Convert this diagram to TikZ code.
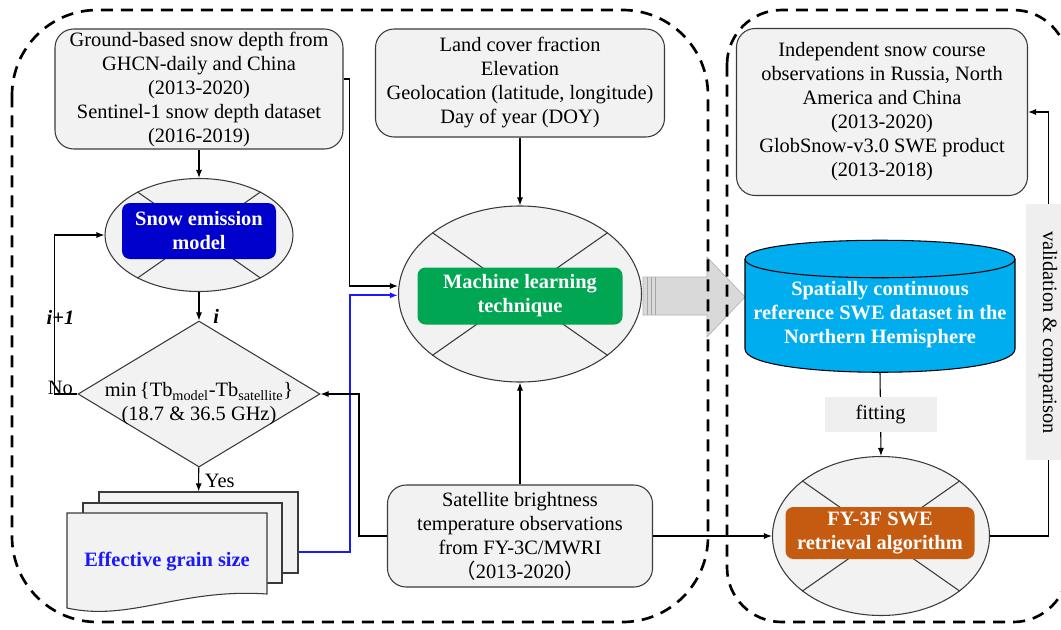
\documentclass[tikz,border=0pt]{standalone}
\usepackage{fontspec}
\setmainfont{Liberation Serif}
\newfontfamily\cjk{Noto Sans CJK SC}
\usetikzlibrary{arrows.meta, positioning, calc, shapes.geometric}
\definecolor{boxfill}{HTML}{F2F2F2}
\definecolor{boxline}{HTML}{3A3A3A}
\definecolor{cblue}{HTML}{0000CC}
\definecolor{cgreen}{HTML}{00A651}
\definecolor{ccyan}{HTML}{00AEEF}
\definecolor{corange}{HTML}{C55A11}
\definecolor{linkblue}{HTML}{1A1AFF}
\definecolor{arrowgray}{HTML}{D9D9D9}
\definecolor{tagfill}{HTML}{EFEFEF}
\newcommand{\fs}{\fontsize{15.3}{18}\selectfont}

\begin{document}
\begin{tikzpicture}[
  x=0.75pt, y=-0.75pt,
  box/.style={draw=boxline, fill=boxfill, rounded corners=14pt, align=center, inner sep=0pt, font=\fs, line width=0.8pt},
  oval/.style={draw=boxline, fill=boxfill, ellipse, inner sep=0pt, line width=0.8pt},
  cross/.style={draw=boxline, line width=0.8pt},
  core/.style={rounded corners=6pt, align=center, inner sep=0pt, text=white, font=\fs\bfseries},
  page/.style={draw=boxline, fill=boxfill, line width=0.8pt, minimum width=149.25pt, inner sep=0pt},
  region/.style={dash pattern=on 9pt off 6pt, line width=2pt, rounded corners=64pt},
  arr/.style={-{Latex[length=6pt, width=4.5pt]}, line width=0.8pt},
  tag/.style={fill=tagfill, font=\fs, inner sep=0pt}
]
  \useasboundingbox (0,0) rectangle (1061,629);
  \clip (0,0) rectangle (1061,629);

  % Big gray arrow (under the dashed frames)
  \draw[draw=gray!60, fill=arrowgray, line width=0.5pt] (643,277) -- (707,277) -- (707,257) -- (745,297) -- (707,337) -- (707,315) -- (643,315) -- cycle;
  \foreach \xx in {647,651,655}
    \draw[gray!70, line width=0.4pt] (\xx,277) -- (\xx,315);

  % Dashed frames
  \draw[region] (12,10) rectangle (708,622);
  \draw[region, rounded corners=41pt] (727,10) rectangle (1068,622);

  % Ground data
  \node[box, minimum width=216pt, minimum height=90pt] (ground) at (199,89)
    {Ground-based snow depth from\\GHCN-daily and China\\(2013-2020)\\Sentinel-1 snow depth dataset\\(2016-2019)};

  % Snow emission model
  \node[oval, minimum width=141pt, minimum height=84.75pt] (sem) at (199,235) {};
  \draw[cross] (sem.145) -- (sem.-35) (sem.35) -- (sem.-145);
  \node[core, fill=cblue, minimum width=115.5pt, minimum height=42pt] (semcore) at (199,231) {Snow emission\\model};

  % Decision
  \node[diamond, draw=boxline, fill=boxfill, line width=0.8pt, minimum width=181.5pt, minimum height=109.5pt, inner sep=0pt] (dia) at (199,394) {};
  \node[font=\fs, align=center] (diatext) at (199,404)
    {min\,\{Tb\textsubscript{model}-Tb\textsubscript{satellite}\}\\(18.7 \& 36.5 GHz)};

  % Effective grain size (stacked pages)
  \node[page, minimum height=60.75pt] (doc3) at (198.5,532.5) {};
  \node[page, minimum height=60pt] (doc2) at (182.5,543) {};
  \draw[draw=boxline, fill=boxfill, line width=0.8pt] (67,513) -- (267,513) -- (267,594) .. controls (180,588) and (130,622) .. (67,608) -- cycle;
  \node[font=\fs\bfseries, text=linkblue] (egs) at (167,562) {Effective grain size};

  % Auxiliary data
  \node[box, minimum width=216.75pt, minimum height=81pt] (land) at (520,83)
    {Land cover fraction\\Elevation\\Geolocation (latitude, longitude)\\Day of year (DOY)};

  % Machine learning
  \node[oval, minimum width=182.25pt, minimum height=132pt] (ml) at (520,294) {};
  \draw[cross] (ml.145) -- (ml.-35) (ml.35) -- (ml.-145);
  \node[core, fill=cgreen, minimum width=153.75pt, minimum height=42.75pt] (mlcore) at (520,296) {Machine learning\\technique};

  % Satellite observations
  \node[box, minimum width=198.75pt, minimum height=76.5pt] (sat) at (520,536)
    {Satellite brightness\\temperature observations\\from FY-3C/MWRI\\{\cjk （}2013-2020{\cjk ）}};

  % Validation data
  \node[box, minimum width=218.25pt, minimum height=125.25pt] (indep) at (882,112)
    {Independent snow course\\observations in Russia, North\\America and China\\(2013-2020)\\GlobSnow-v3.0 SWE product\\(2013-2018)};

  % Reference SWE dataset
  \draw[fill=ccyan, line width=0.8pt] (745,259) -- (745,349) .. controls (745,380) and (1015,380) .. (1015,349) -- (1015,259) .. controls (1015,234) and (745,234) .. cycle;
  \draw[line width=0.8pt] (745,259) .. controls (745,284) and (1015,284) .. (1015,259);
  \node[align=center, font=\fs\bfseries, text=white, minimum width=202.5pt, minimum height=85.5pt, inner sep=0pt] (cyl) at (880,315)
    {Spatially continuous\\reference SWE dataset in the\\Northern Hemisphere};

  % FY-3F algorithm
  \node[oval, minimum width=162.75pt, minimum height=119.25pt] (fy) at (881,536) {};
  \draw[cross] (fy.145) -- (fy.-35) (fy.35) -- (fy.-145);
  \node[core, fill=corange, minimum width=141.75pt, minimum height=39pt] (fycore) at (880,533) {FY-3F SWE\\retrieval algorithm};

  % Connectors
  \draw[arr] (ground) -- (sem);
  \draw[arr] (sem) -- node[pos=0.85, right=7pt, font=\fs\bfseries\itshape] {i} (dia);
  \draw[arr] (dia) -- node[pos=0.56, right=1pt, font=\fs] {Yes} (doc3);
  \draw[arr] (dia.west) -- ++(-23,0) node[pos=0.74, anchor=base, font=\fs] {No}
    |- node[pos=0.24, xshift=4.5pt, font=\fs\bfseries\itshape] {i+1} (sem.west);
  \draw[arr] ([yshift=7.5pt]ground.east) -- ++(6,0) |- ([yshift=6pt]ml.west);
  \draw[arr, linkblue, line width=1.5pt] ([yshift=-14.25pt]doc3.east) -- ++(51,0) |- ([yshift=-1pt]ml.west);
  \draw[arr] (land) -- (ml);
  \draw[arr] (sat) -- (ml);
  \draw[arr] (sat.west) -- ++(-28,0) |- (dia.east);
  \draw[arr] (sat.east) -- (fy.west);
  \draw[arr] (cyl.south) -- node[tag, minimum width=84pt, minimum height=26.25pt] {fitting} (fy.north);
  \draw[arr] (fy.east) -- ++(58,0)
    |- node[pos=0.24, tag, rotate=-90, minimum width=192pt, minimum height=33pt] {validation \& comparison} (indep.east);

\end{tikzpicture}
\end{document}
